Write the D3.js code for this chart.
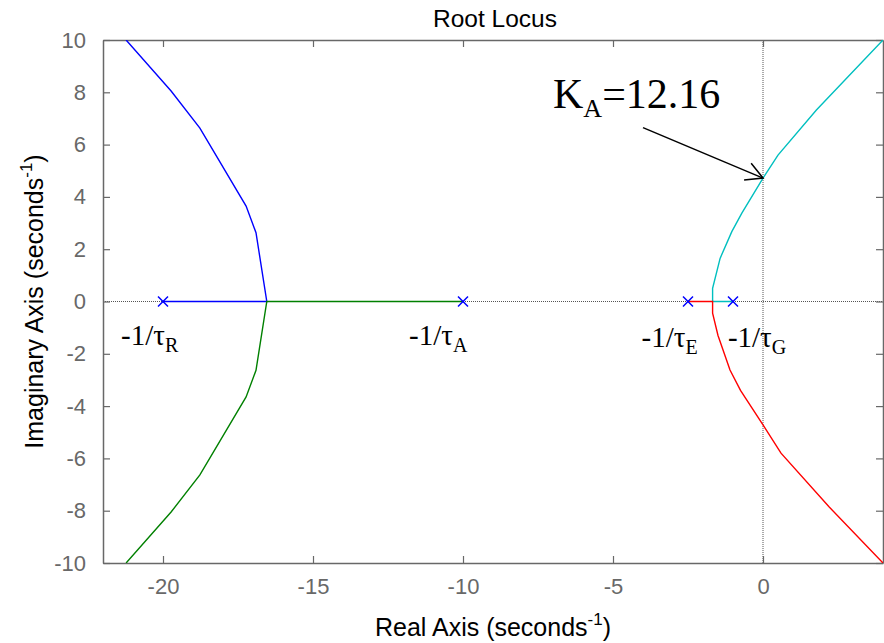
<!DOCTYPE html>
<html>
<head>
<meta charset="utf-8">
<script src="https://cdn.jsdelivr.net/npm/d3@7"></script>
<style>
  body { margin: 0; background: #fff; }
  svg { display: block; }
</style>
</head>
<body>
<script>
// locus branches, [real, imag] points
var blueBranch = [[-20, 0], [-16.54, 0], [-16.9, 2.63], [-17.23, 3.65], [-18.77, 6.63], [-19.73, 8.05], [-21.23, 10]];
var greenBranch = [[-10, 0], [-16.54, 0], [-16.9, -2.63], [-17.23, -3.65], [-18.77, -6.63], [-19.73, -8.05], [-21.23, -10]];
var cyanBranch = [[-1, 0], [-1.68, 0], [-1.68, 0.5], [-1.43, 1.65], [-1.04, 2.67], [-0.71, 3.37], [0, 4.72], [0.5, 5.6], [1.78, 7.32], [4.0, 10]];
var redBranch = [[-2.5, 0], [-1.68, 0], [-1.68, -0.45], [-1.5, -1.3], [-1.1, -2.62], [-0.75, -3.4], [0, -4.72], [0.6, -5.8], [2.2, -7.85], [4.0, -10]];
var branchColors = ["#0000ff", "#008000", "#00bfbf", "#ff0000"];

// open-loop poles
var poles = [-20, -10, -2.5, -1];

// tick values
var xTicks = [-20, -15, -10, -5, 0];
var yTicks = [-10, -8, -6, -4, -2, 0, 2, 4, 6, 8, 10];

// pole labels (main text, subscript, anchor in data units)
var poleLabels = [
    { main: "-1/τ", sub: "R", re: -21.4, im: -1.66 },
    { main: "-1/τ", sub: "A", re: -11.8, im: -1.66 },
    { main: "-1/τ", sub: "E", re: -4.05, im: -1.74 },
    { main: "-1/τ", sub: "G", re: -1.17, im: -1.74 }
];
var gainText = "=12.16";
var gainPoint = [0, 4.72];   // arrow tip
var gainTail = [-4.0, 6.65]; // arrow tail

var W = 884, H = 643;
var plotLeft = 103, plotRight = 883, plotTop = 40, plotBottom = 563;
var axisGray = "#686868";

var svg = d3.select("body").append("svg")
    .attr("width", W)
    .attr("height", H)
    .attr("xmlns", "http://www.w3.org/2000/svg");

var x = d3.scaleLinear().domain([-22, 4]).range([plotLeft, plotRight]);
var y = d3.scaleLinear().domain([-10, 10]).range([plotBottom, plotTop]);

svg.append("defs").append("clipPath").attr("id", "plotclip")
    .append("rect")
    .attr("x", plotLeft).attr("y", plotTop)
    .attr("width", plotRight - plotLeft).attr("height", plotBottom - plotTop);

// dotted zero lines
svg.append("line")
    .attr("x1", plotLeft).attr("x2", plotRight)
    .attr("y1", y(0)).attr("y2", y(0))
    .style("stroke", "#555").style("stroke-width", 1).style("stroke-dasharray", "1,1");
svg.append("line")
    .attr("x1", x(0)).attr("x2", x(0))
    .attr("y1", plotTop).attr("y2", plotBottom)
    .style("stroke", "#555").style("stroke-width", 1).style("stroke-dasharray", "1,1");

// axes box with inward ticks on all sides
var tickLen = 7;
var fmt = function (d) { return String(d); }; // plain hyphen minus, as in the reference
var axB = svg.append("g").attr("transform", "translate(0," + plotBottom + ")")
    .call(d3.axisBottom(x).tickValues(xTicks).tickSizeInner(-tickLen).tickSizeOuter(0).tickPadding(15).tickFormat(fmt));
var axT = svg.append("g").attr("transform", "translate(0," + plotTop + ")")
    .call(d3.axisTop(x).tickValues(xTicks).tickSizeInner(-tickLen).tickSizeOuter(0).tickFormat(""));
var axL = svg.append("g").attr("transform", "translate(" + plotLeft + ",0)")
    .call(d3.axisLeft(y).tickValues(yTicks).tickSizeInner(-tickLen).tickSizeOuter(0).tickPadding(17).tickFormat(fmt));
var axR = svg.append("g").attr("transform", "translate(" + plotRight + ",0)")
    .call(d3.axisRight(y).tickValues(yTicks).tickSizeInner(-tickLen).tickSizeOuter(0).tickFormat(""));

[axB, axT, axL, axR].forEach(function (ax) {
    ax.select(".domain").style("stroke", axisGray).style("stroke-width", 1.5);
    ax.selectAll(".tick line").style("stroke", axisGray).style("stroke-width", 1.2);
    ax.selectAll(".tick text")
        .style("fill", axisGray)
        .style("font-family", "Liberation Sans, Arial, sans-serif")
        .style("font-size", "22px");
});

// locus branches
var line = d3.line().x(function (d) { return x(d[0]); }).y(function (d) { return y(d[1]); });
var plot = svg.append("g").attr("clip-path", "url(#plotclip)");
[blueBranch, greenBranch, cyanBranch, redBranch].forEach(function (b, i) {
    plot.append("path")
        .attr("d", line(b))
        .style("fill", "none")
        .style("stroke", branchColors[i])
        .style("stroke-width", 1.4);
});

// pole markers
var m = 5;
poles.forEach(function (p) {
    var px = x(p), py = y(0);
    svg.append("path")
        .attr("d", "M" + (px - m) + "," + (py - m) + "L" + (px + m) + "," + (py + m) +
            "M" + (px - m) + "," + (py + m) + "L" + (px + m) + "," + (py - m))
        .style("stroke", "#0000ff")
        .style("stroke-width", 1.5);
});

// pole labels
var serif = "Liberation Serif, Times New Roman, serif";
poleLabels.forEach(function (d) {
    var t = svg.append("text")
        .attr("x", x(d.re)).attr("y", y(d.im))
        .style("font-family", serif)
        .style("font-size", "29px")
        .style("fill", "#000");
    t.append("tspan").text(d.main);
    t.append("tspan").attr("dy", 7).style("font-size", "20px").text(d.sub);
});

// gain annotation
var kt = svg.append("text")
    .attr("x", 553).attr("y", 108)
    .style("font-family", serif)
    .style("font-size", "42px")
    .style("fill", "#000");
kt.append("tspan").text("K");
kt.append("tspan").attr("dy", 9).style("font-size", "26px").text("A");
kt.append("tspan").attr("dy", -9).text(gainText);

var ax1 = x(gainTail[0]), ay1 = y(gainTail[1]), ax2 = x(gainPoint[0]), ay2 = y(gainPoint[1]);
svg.append("line")
    .attr("x1", ax1).attr("y1", ay1).attr("x2", ax2).attr("y2", ay2)
    .style("stroke", "#000").style("stroke-width", 1.5);
var ang = Math.atan2(ay2 - ay1, ax2 - ax1), hl = 19, spread = 0.5;
svg.append("path")
    .attr("d", "M" + (ax2 - hl * Math.cos(ang - spread)) + "," + (ay2 - hl * Math.sin(ang - spread)) +
        "L" + ax2 + "," + ay2 +
        "L" + (ax2 - hl * Math.cos(ang + spread)) + "," + (ay2 - hl * Math.sin(ang + spread)))
    .style("fill", "none").style("stroke", "#000").style("stroke-width", 1.5);

// title and axis labels
var sans = "Liberation Sans, Arial, sans-serif";
svg.append("text")
    .attr("x", (plotLeft + plotRight) / 2 + 2).attr("y", 27)
    .attr("text-anchor", "middle")
    .style("font-family", sans).style("font-size", "24.5px").style("fill", "#000")
    .text("Root Locus");

var xl = svg.append("text")
    .attr("x", (plotLeft + plotRight) / 2).attr("y", 636)
    .attr("text-anchor", "middle")
    .style("font-family", sans).style("font-size", "25px").style("fill", "#000");
xl.append("tspan").text("Real Axis (seconds");
xl.append("tspan").attr("dy", -11).style("font-size", "17px").text("-1");
xl.append("tspan").attr("dy", 11).text(")");

var yl = svg.append("text")
    .attr("transform", "translate(43," + ((plotTop + plotBottom) / 2) + ") rotate(-90)")
    .attr("text-anchor", "middle")
    .style("font-family", sans).style("font-size", "25px").style("fill", "#000");
yl.append("tspan").text("Imaginary Axis (seconds");
yl.append("tspan").attr("dy", -11).style("font-size", "17px").text("-1");
yl.append("tspan").attr("dy", 11).text(")");
</script>
</body>
</html>
